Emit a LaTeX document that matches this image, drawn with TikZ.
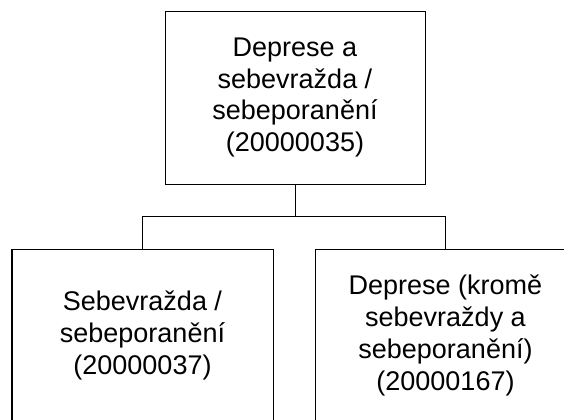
\documentclass[tikz,border=0pt]{standalone}
\usepackage{fontspec}
\setmainfont{Liberation Sans}
\usetikzlibrary{positioning}
\begin{document}
\begin{tikzpicture}[x=0.5pt,y=-0.5pt]
    \tikzstyle{catbox}=[draw,line width=0.5pt,minimum width=130.5pt,minimum height=86.5pt,inner sep=0pt,align=center,font=\fontsize{13.5}{15.85}\selectfont]
    \tikzstyle{link}=[line width=0.5pt]

    \useasboundingbox (0,0) rectangle (564,419);
    \clip (0,0) rectangle (564,419);

    % parent
    \node[catbox,minimum width=130pt] (root) at (295,97.5) {Deprese a\\sebevražda /\\sebeporanění\\(20000035)};

    % children
    \node[catbox] (suicide) at (142.5,335.5) {Sebevražda /\\sebeporanění\\(20000037)};
    \node[catbox] (depression) at (445.5,335.5) {Deprese (kromě\\sebevraždy a\\sebeporanění)\\(20000167)};

    \coordinate (fork) at (295,216);
    \draw[link] (root.south) -- (fork) -| (suicide.north);
    \draw[link] (fork) -| (depression.north);

\end{tikzpicture}
\end{document}
